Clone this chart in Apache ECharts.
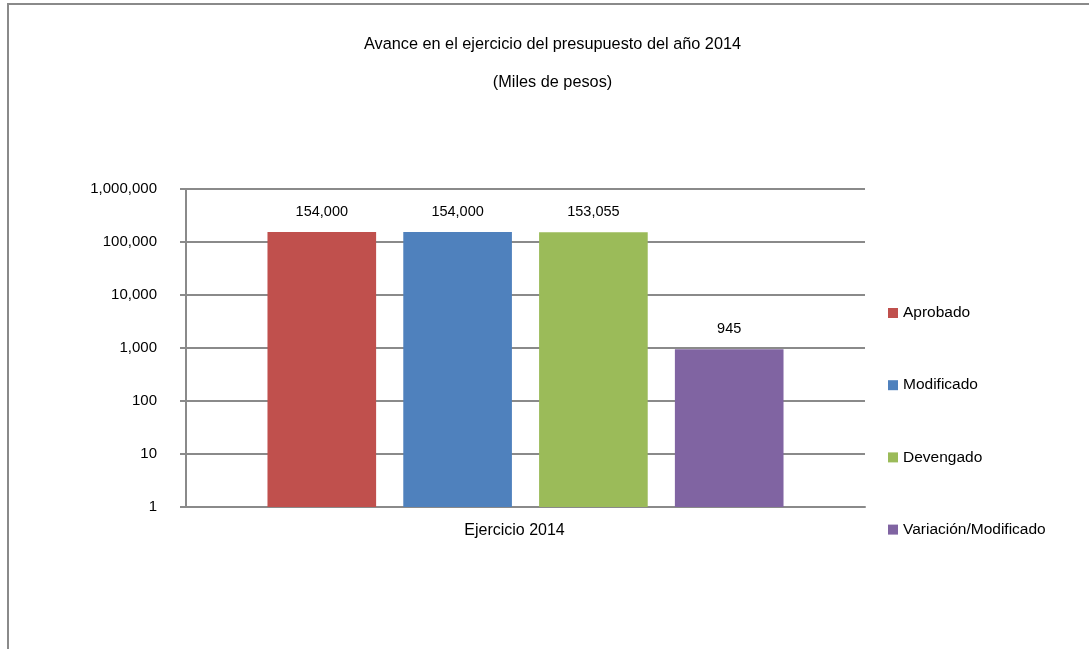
<!DOCTYPE html>
<html>
<head>
<meta charset="utf-8">
<script src="https://cdn.jsdelivr.net/npm/echarts@6/dist/echarts.min.js"></script>
<style>
html,body{margin:0;padding:0;background:#fff;}
#chart{width:1089px;height:649px;}
</style>
</head>
<body>
<div id="chart"></div>
<script>
const categories = ['Ejercicio 2014'];
const seriesNames = ['Aprobado', 'Modificado', 'Devengado', 'Variación/Modificado'];
const seriesValues = [[154000], [154000], [153055], [945]];
const seriesColors = ['#C0504D', '#4F81BD', '#9BBB59', '#8064A2'];
const yTickValues = [1, 10, 100, 1000, 10000, 100000, 1000000];

const FONT = '"Liberation Sans", Arial, sans-serif';
const chart = echarts.init(document.getElementById('chart'));
const fmt = v => Math.round(v).toString().replace(/\B(?=(\d{3})+(?!\d))/g, ',');

chart.setOption({
  animation: false,
  backgroundColor: '#fff',
  textStyle: { fontFamily: FONT },
  graphic: [{
    type: 'rect', silent: true,
    shape: { x: 8, y: 4, width: 1300, height: 900 },
    style: { fill: 'none', stroke: '#8a8a8a', lineWidth: 2 }
  }],
  title: [
    { text: 'Avance en el ejercicio del presupuesto del año 2014', left: 547.5, textAlign: 'center', top: 32,
      textStyle: { fontFamily: FONT, fontSize: 16.3, fontWeight: 'normal', color: '#000' } },
    { text: '(Miles de pesos)', left: 547.5, textAlign: 'center', top: 70,
      textStyle: { fontFamily: FONT, fontSize: 16.3, fontWeight: 'normal', color: '#000' } }
  ],
  legend: {
    orient: 'vertical', left: 883, top: 300, itemGap: 56.2,
    itemWidth: 10, itemHeight: 10, icon: 'rect',
    textStyle: { fontFamily: FONT, fontSize: 15.5, color: '#000' },
    data: seriesNames
  },
  grid: { left: 186, right: 224, top: 189, bottom: 142, containLabel: false },
  xAxis: {
    type: 'category', data: categories,
    axisLine: { show: true, lineStyle: { color: '#8a8a8a', width: 2 } },
    axisTick: { show: false },
    axisLabel: { fontFamily: FONT, fontSize: 16, color: '#000', margin: 16, padding: [0, 22, 0, 0] }
  },
  yAxis: {
    type: 'log', logBase: 10, min: 1, max: 1000000,
    axisLine: { show: true, lineStyle: { color: '#8a8a8a', width: 2 } },
    axisTick: { show: true, inside: false, length: 6, lineStyle: { color: '#8a8a8a', width: 2 } },
    splitLine: { show: true, lineStyle: { color: '#8a8a8a', width: 2 } },
    axisLabel: { fontFamily: FONT, fontSize: 15, color: '#000', margin: 29, formatter: v => fmt(v) }
  },
  series: seriesNames.map((name, i) => ({
    name, type: 'bar', data: seriesValues[i],
    barGap: '25%', barCategoryGap: '24%',
    itemStyle: { color: seriesColors[i] },
    label: { show: true, position: 'top', distance: 13, fontFamily: FONT, fontSize: 14.5, color: '#000',
      formatter: p => fmt(p.value) }
  }))
});
</script>
</body>
</html>
